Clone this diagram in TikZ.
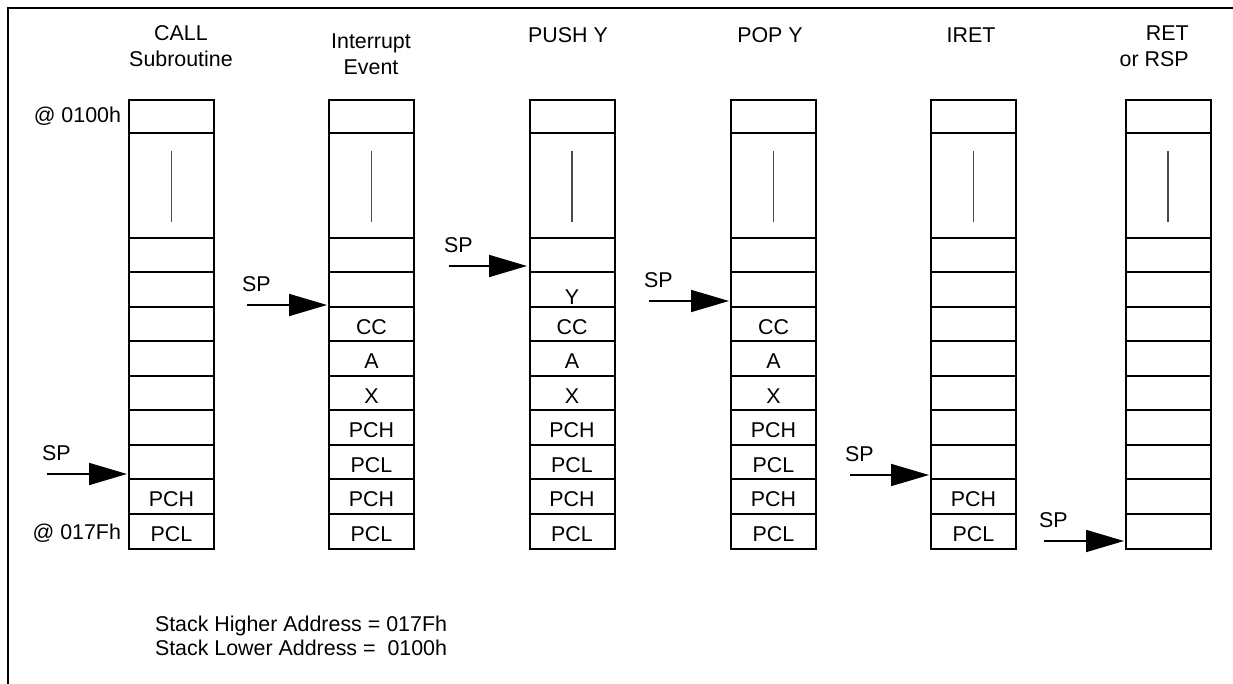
\documentclass[tikz,border=0pt]{standalone}
\usepackage{fontspec}
\setmainfont{Liberation Sans}
\usetikzlibrary{arrows.meta}
\begin{document}
\begin{tikzpicture}[x=0.5pt,y=-0.5pt,
  font=\fontsize{10.7}{13}\selectfont,
  cell/.style={draw, line width=1pt, minimum width=42.5pt, minimum height=17.25pt, inner sep=0pt, outer sep=0pt},
  gapline/.style={draw=black!70, line width=0.9pt},
  lbl/.style={inner sep=0pt, outer sep=0pt},
  hdr/.style={inner sep=0pt, align=center},
  sparrow/.style={line width=0.9pt, -{Triangle[length=19pt,width=11pt]}},
  frameline/.style={line width=1.4pt}]
\useasboundingbox (0,0) rectangle (1233,684);
% frame
\coordinate (fbl) at (8,690);
\coordinate (ftl) at (8,8);
\coordinate (ftr) at (1240,8);
\draw[frameline] (fbl) -- (ftl) -- (ftr);
% stacks
\foreach \c/\x in {1/171.5,2/371.5,3/572,4/773.5,5/973.5,6/1168}{
  \node[cell, minimum height=16.5pt] (c\c r0) at (\x,116.5) {};
  \node[cell, minimum height=52.5pt] (c\c big) at (\x,185.5) {};
  \coordinate (c\c gt) at (\x,151);
  \coordinate (c\c gb) at (\x,222);
  \draw[gapline] (c\c gt) -- (c\c gb);
  \foreach \r in {1,...,9}{
    \node[cell] (c\c r\r) at (\x,{238+34.5*(\r-0.5)}) {};
  }
}
% cell contents
\foreach \c/\r/\t in {1/8/PCH,1/9/PCL,
  2/3/CC,2/4/A,2/5/X,2/6/PCH,2/7/PCL,2/8/PCH,2/9/PCL,
  3/3/CC,3/4/A,3/5/X,3/6/PCH,3/7/PCL,3/8/PCH,3/9/PCL,
  4/3/CC,4/4/A,4/5/X,4/6/PCH,4/7/PCL,4/8/PCH,4/9/PCL,
  5/8/PCH,5/9/PCL}{
  \node[lbl] (t\c x\r) at ([yshift=-1.2pt]c\c r\r.center) {\t};
}
\node[lbl] (t3x2) at ([yshift=-3.5pt]c3r2.center) {Y};
% headers
\node[hdr] (h1) at (181,46) {CALL\\Subroutine};
\node[hdr] (h2) at (371,54) {Interrupt\\Event};
\node[hdr] (h3) at (568,35) {PUSH Y};
\node[hdr] (h4) at (770,35) {POP Y};
\node[hdr] (h5) at (971,35) {IRET};
\node[hdr, align=right, anchor=east] (h6) at (1189,46) {RET\\or RSP};
% address labels
\node[lbl, anchor=east] (a1) at (121,116) {@ 0100h};
\node[lbl, anchor=east] (a2) at (121,533) {@ 017Fh};
% SP arrows
\foreach \i/\xs/\xe/\y in {1/47/127/474, 2/247/327/305, 3/449/527/266, 4/649/729/301, 5/850/929/475, 6/1044/1124/541}{
  \coordinate (s\i) at (\xs,\y);
  \coordinate (e\i) at (\xe,\y);
  \draw[sparrow] (s\i) -- (e\i);
  \node[lbl, anchor=west] (sp\i) at ([xshift=-2.5pt,yshift=10.5pt]s\i) {SP};
}
% notes
\node[lbl, anchor=west] (n1) at (155,626) {Stack Higher Address = 017Fh};
\node[lbl, anchor=west] (n2) at (155,648) {Stack Lower Address = \ 0100h};
\end{tikzpicture}
\end{document}
